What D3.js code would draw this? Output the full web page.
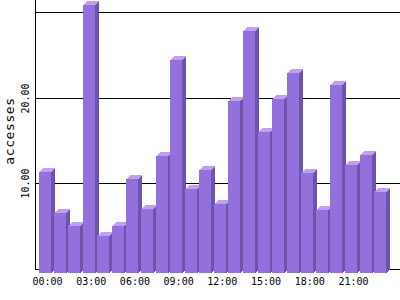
<!DOCTYPE html>
<html>
<head>
<meta charset="utf-8">
<script src="https://cdn.jsdelivr.net/npm/d3@7"></script>
<style>
  body { margin: 0; background: #fff; }
  svg { display: block; }
  text { font-family: "DejaVu Sans Mono", monospace; fill: #000; }
</style>
</head>
<body>
<div id="chart"></div>
<script>
// hourly access counts
var hours = ["00:00","01:00","02:00","03:00","04:00","05:00","06:00","07:00",
             "08:00","09:00","10:00","11:00","12:00","13:00","14:00","15:00",
             "16:00","17:00","18:00","19:00","20:00","21:00","22:00","23:00"];
var accesses = [11.8, 7.0, 5.5, 31.3, 4.35, 5.5, 11.0, 7.5,
                13.7, 24.85, 9.8, 12.0, 8.1, 20.1, 28.3, 16.5,
                20.3, 23.3, 11.7, 7.4, 22.0, 12.6, 13.8, 9.4];
var yTicks = [10, 20, 30];
var yLabelled = [10, 20];   // top label falls off the picture in the original
var xTickLabels = ["00:00","03:00","06:00","09:00","12:00","15:00","18:00","21:00"];

var width = 400, height = 300;
var left = 36, base = 269;
var depth = 4;

var svg = d3.select("#chart").append("svg")
    .attr("width", width)
    .attr("height", height);

var x = d3.scaleBand()
    .domain(hours)
    .range([39, 39 + 24 * 14.57])
    .paddingInner(0)
    .paddingOuter(0);

var y = d3.scaleLinear()
    .domain([0, 30])
    .range([base, 12]);

var frontW = 12;

// grid lines + y labels
var yAxis = svg.append("g")
    .attr("transform", "translate(" + left + ",0)")
    .call(d3.axisLeft(y).tickValues(yTicks).tickSize(-(width - left))
      .tickFormat(function(d) { return yLabelled.indexOf(d) >= 0 ? d3.format(".2f")(d) : ""; }));
yAxis.select(".domain").remove();
yAxis.selectAll(".tick line")
    .attr("stroke", "#000")
    .attr("shape-rendering", "crispEdges");
yAxis.selectAll(".tick").attr("transform", function(d) {
  return "translate(0," + (Math.round(y(d)) + 0.5) + ")";
});
yAxis.selectAll(".tick text")
    .attr("x", null).attr("dy", null)
    .attr("transform", "translate(-7,0) rotate(-90)")
    .attr("text-anchor", "middle")
    .style("font-size", "10px");

// axis lines
svg.append("line")
    .attr("x1", left - 0.5).attr("x2", left - 0.5)
    .attr("y1", 0).attr("y2", base + 0.5)
    .attr("stroke", "#000").attr("shape-rendering", "crispEdges");
svg.append("line")
    .attr("x1", left - 1).attr("x2", width)
    .attr("y1", base + 0.5).attr("y2", base + 0.5)
    .attr("stroke", "#000").attr("shape-rendering", "crispEdges");

// 3d bars, left to right
var bars = svg.selectAll("g.bar")
  .data(hours.map(function(h, i) { return {hour: h, value: accesses[i]}; }))
  .enter().append("g")
    .attr("class", "bar")
    .attr("shape-rendering", "crispEdges");

function fx(d) { return Math.round(x(d.hour)); }
function ftop(d) { return Math.round(y(d.value)) + depth; }

bars.append("rect")
    .attr("x", fx)
    .attr("y", ftop)
    .attr("width", frontW)
    .attr("height", function(d) { return base + depth - ftop(d); })
    .attr("fill", "#9370db");

bars.append("polygon")
    .attr("points", function(d) {
      var a = fx(d) + frontW, t = ftop(d);
      return [[a, t], [a + depth, t - depth], [a + depth, base], [a, base + depth]].join(" ");
    })
    .attr("fill", "#6c54aa");

bars.append("polygon")
    .attr("points", function(d) {
      var a = fx(d), t = ftop(d);
      return [[a, t], [a + depth, t - depth], [a + frontW + depth, t - depth], [a + frontW, t]].join(" ");
    })
    .attr("fill", "#c29cfb");

// x labels
var xAxis = svg.append("g")
    .attr("transform", "translate(1.2," + (base + 3) + ")")
    .call(d3.axisBottom(x).tickValues(xTickLabels).tickSize(0));
xAxis.select(".domain").remove();
xAxis.selectAll(".tick text")
    .attr("dy", null)
    .attr("y", 13)
    .style("font-size", "10px");

// y title
svg.append("text")
    .attr("transform", "translate(14,131) rotate(-90)")
    .attr("text-anchor", "middle")
    .style("font-size", "13px")
    .style("letter-spacing", "0.6px")
    .text("accesses");
</script>
</body>
</html>
